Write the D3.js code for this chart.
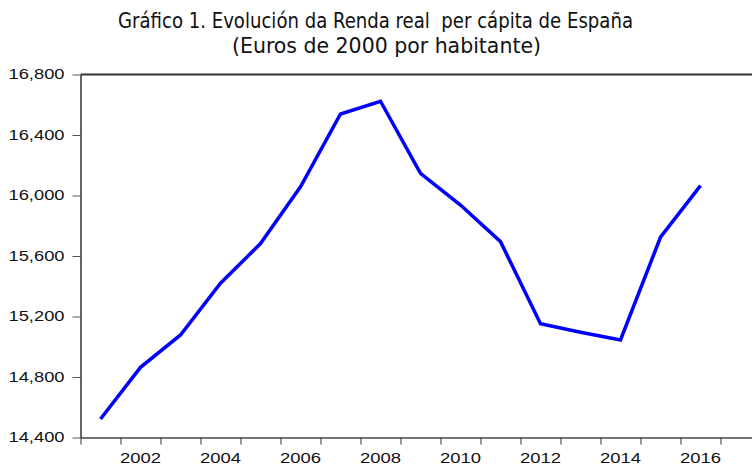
<!DOCTYPE html>
<html>
<head>
<meta charset="utf-8">
<script src="https://cdn.jsdelivr.net/npm/d3@7"></script>
<style>
  body { margin: 0; background: #fff; }
  svg { display: block; }
  .title { white-space: pre; }
</style>
</head>
<body>
<svg width="752" height="466"></svg>
<script>
"use strict";

// annual real income per capita, Spain (euros of 2000)
const years = [2001, 2002, 2003, 2004, 2005, 2006, 2007, 2008, 2009, 2010, 2011, 2012, 2013, 2014, 2015, 2016];
const renda = [14522, 14864, 15078, 15420, 15682, 16057, 16539, 16623, 16147, 15937, 15695, 15152, 15096, 15045, 15724, 16065];
const yTicks = [14400, 14800, 15200, 15600, 16000, 16400, 16800];
const yearLabels = [2002, 2004, 2006, 2008, 2010, 2012, 2014, 2016];
const titleLines = ["Gráfico 1. Evolución da Renda real  per cápita de España", "(Euros de 2000 por habitante)"];

const svg = d3.select("svg");
const W = +svg.attr("width");
const Padding = {TOP: 74.5, LEFT: 80.5, BOTTOM: 437.5};

// one band of 40px per year, years sit in the middle of their band
const x = d3.scaleLinear()
    .domain([2000.5, 2000.5 + (W - Padding.LEFT) / 40])
    .range([Padding.LEFT, W]);
const y = d3.scaleLinear()
    .domain([14400, 16800])
    .range([Padding.BOTTOM, Padding.TOP]);

// title
svg.selectAll(".title")
    .data(titleLines)
    .enter()
    .append("text")
    .attr("class", "title")
    .attr("x", (d, i) => i === 0 ? 118 : 232)
    .attr("y", (d, i) => i === 0 ? 28 : 53)
    .attr("textLength", (d, i) => i === 0 ? 515 : 309)
    .attr("lengthAdjust", "spacingAndGlyphs")
    .attr("font-family", "'Liberation Sans Narrow', 'DejaVu Sans Condensed', sans-serif")
    .attr("font-size", 21)
    .attr("fill", "#111")
    .text(d => d);

// top frame line
svg.append("line")
    .attr("x1", Padding.LEFT).attr("x2", W)
    .attr("y1", y(16800)).attr("y2", y(16800))
    .attr("stroke", "#333").attr("stroke-width", 2);

// y axis
const yAxis = svg.append("g")
    .attr("transform", `translate(${Padding.LEFT}, 0)`)
    .call(d3.axisLeft(y).tickValues(yTicks).tickSize(8).tickSizeOuter(0).tickFormat(d3.format(",")));
yAxis.select(".domain").attr("stroke", "#333").attr("stroke-width", 1.5);
yAxis.selectAll(".tick line").attr("stroke", "#555");
yAxis.selectAll("text")
    .attr("x", -16)
    .attr("font-family", "Arial, 'Liberation Sans', sans-serif")
    .attr("font-size", 14)
    .attr("fill", "#111")
    .attr("textLength", 56)
    .attr("lengthAdjust", "spacingAndGlyphs");

// x axis: ticks on year boundaries
const bounds = d3.range(2000.5, 2017, 1);
const xAxis = svg.append("g")
    .attr("transform", `translate(0, ${Padding.BOTTOM})`)
    .call(d3.axisBottom(x).tickValues(bounds).tickSize(7).tickSizeOuter(0).tickFormat(""));
xAxis.select(".domain").attr("stroke", "#444").attr("stroke-width", 1.5);
xAxis.selectAll(".tick line").attr("stroke", "#333");

// year labels centred in their bands
svg.append("g")
    .selectAll("text")
    .data(yearLabels)
    .enter()
    .append("text")
    .attr("x", d => x(d) - 20.5)
    .attr("y", 463)
    .attr("textLength", 41)
    .attr("lengthAdjust", "spacingAndGlyphs")
    .attr("font-family", "Arial, 'Liberation Sans', sans-serif")
    .attr("font-size", 14)
    .attr("fill", "#111")
    .text(d => d);

// the series
const line = d3.line()
    .x((d, i) => x(years[i]))
    .y(d => y(d));
svg.append("path")
    .datum(renda)
    .attr("fill", "none")
    .attr("stroke", "#0000ff")
    .attr("stroke-width", 3.5)
    .attr("stroke-linejoin", "miter")
    .attr("d", line);
</script>
</body>
</html>
